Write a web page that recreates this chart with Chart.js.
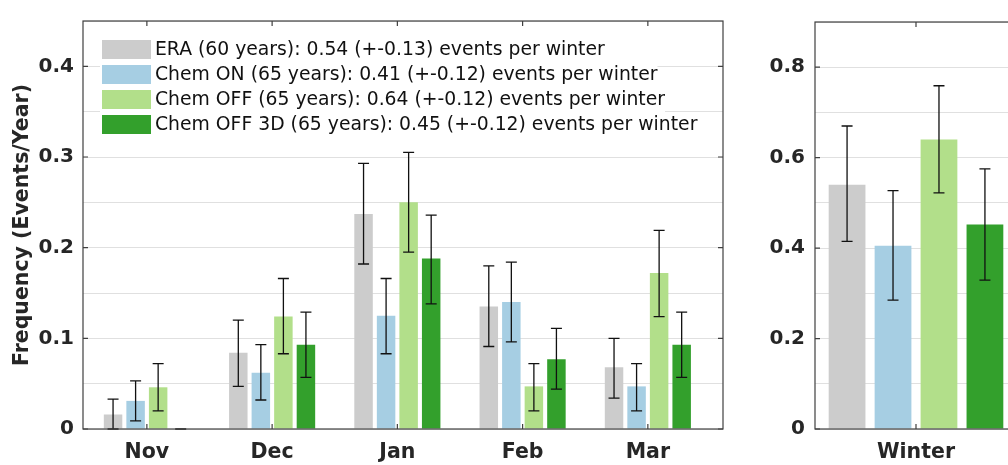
<!DOCTYPE html>
<html>
<head>
<meta charset="utf-8">
<script src="https://cdn.jsdelivr.net/npm/chart.js@4"></script>
<style>
  body { margin: 0; background: #fff; }
  #wrap { position: relative; width: 1008px; height: 465px; overflow: hidden; }
  canvas { position: absolute; top: 0; }
</style>
</head>
<body>
<div id="wrap">
  <canvas id="monthly" width="735" height="465" style="left:0"></canvas>
  <canvas id="winter" width="290" height="465" style="left:740px"></canvas>
</div>
<script>
// data
const months = ["Nov", "Dec", "Jan", "Feb", "Mar"];
const seasons = ["Winter"];
const legendLabels = [
  "ERA (60 years): 0.54 (+-0.13) events per winter",
  "Chem ON (65 years): 0.41 (+-0.12) events per winter",
  "Chem OFF (65 years): 0.64 (+-0.12) events per winter",
  "Chem OFF 3D (65 years): 0.45 (+-0.12) events per winter"
];
const colors = ["#cccccc", "#a6cee3", "#b2df8a", "#33a02c"];

const eraFreq = [0.016, 0.084, 0.237, 0.135, 0.068];
const eraLow = [0, 0.047, 0.182, 0.091, 0.034];
const eraHigh = [0.033, 0.120, 0.293, 0.180, 0.100];

const chemOnFreq = [0.031, 0.062, 0.125, 0.140, 0.047];
const chemOnLow = [0.009, 0.032, 0.083, 0.096, 0.020];
const chemOnHigh = [0.053, 0.093, 0.166, 0.184, 0.072];

const chemOffFreq = [0.046, 0.124, 0.250, 0.047, 0.172];
const chemOffLow = [0.020, 0.083, 0.195, 0.020, 0.124];
const chemOffHigh = [0.072, 0.166, 0.305, 0.072, 0.219];

const chemOff3dFreq = [0, 0.093, 0.188, 0.077, 0.093];
const chemOff3dLow = [0, 0.057, 0.138, 0.044, 0.057];
const chemOff3dHigh = [0, 0.129, 0.236, 0.111, 0.129];

// winter totals, one per series
const winterFreq = [0.540, 0.405, 0.640, 0.452];
const winterLow = [0.415, 0.285, 0.522, 0.329];
const winterHigh = [0.670, 0.527, 0.759, 0.575];

const axisColor = "#404040";
const textColor = "#262626";
const gridColor = "#e0e0e0";

// error bars with caps
const errorBars = {
  id: "errorBars",
  afterDatasetsDraw(chart) {
    const ctx = chart.ctx;
    const y = chart.scales.y;
    ctx.save();
    ctx.strokeStyle = "#111";
    ctx.lineWidth = 1.3;
    chart.data.datasets.forEach((ds, i) => {
      chart.getDatasetMeta(i).data.forEach((bar, j) => {
        const top = y.getPixelForValue(ds.errHigh[j]);
        const bot = y.getPixelForValue(ds.errLow[j]);
        ctx.beginPath();
        ctx.moveTo(bar.x, top); ctx.lineTo(bar.x, bot);
        ctx.moveTo(bar.x - 5.5, top); ctx.lineTo(bar.x + 5.5, top);
        ctx.moveTo(bar.x - 5.5, bot); ctx.lineTo(bar.x + 5.5, bot);
        ctx.stroke();
      });
    });
    ctx.restore();
  }
};

// matlab-like box with inward ticks
const frame = {
  id: "frame",
  afterDatasetsDraw(chart, args, opts) {
    const ctx = chart.ctx;
    const a = chart.chartArea;
    ctx.save();
    ctx.strokeStyle = axisColor;
    ctx.lineWidth = 1.2;
    ctx.strokeRect(a.left, a.top, a.right - a.left, a.bottom - a.top);
    ctx.beginPath();
    chart.scales.x.ticks.forEach(t => {
      const px = chart.scales.x.getPixelForValue(t.value);
      ctx.moveTo(px, a.bottom); ctx.lineTo(px, a.bottom - 5);
      ctx.moveTo(px, a.top); ctx.lineTo(px, a.top + 5);
    });
    for (let v = 0; v <= chart.scales.y.max + 1e-9; v += opts.major) {
      const py = chart.scales.y.getPixelForValue(v);
      ctx.moveTo(a.left, py); ctx.lineTo(a.left + 5, py);
      ctx.moveTo(a.right, py); ctx.lineTo(a.right - 5, py);
    }
    ctx.stroke();
    ctx.restore();
  }
};

// legend drawn inside the plot, white behind each row
const insideLegend = {
  id: "insideLegend",
  afterDatasetsDraw(chart) {
    if (!chart.options.plugins.insideLegend.show) return;
    const ctx = chart.ctx;
    const a = chart.chartArea;
    ctx.save();
    ctx.font = '18.8px "DejaVu Sans"';
    ctx.textBaseline = "middle";
    chart.data.datasets.forEach((ds, i) => {
      const x0 = a.left + 19;
      const y0 = a.top + 19 + i * 25;
      const w = ctx.measureText(ds.label).width;
      ctx.fillStyle = "#fff";
      ctx.fillRect(x0 - 2, y0 - 3, 53 + w + 2, 25);
      ctx.fillStyle = ds.backgroundColor;
      ctx.fillRect(x0, y0, 49, 19);
      ctx.fillStyle = "#111";
      ctx.fillText(ds.label, x0 + 53, y0 + 10);
    });
    ctx.restore();
  }
};

const toPoints = vals => vals.map((v, i) => ({ x: i + 1, y: v }));

function yAxis(max, major, width, pad, withTitle) {
  return {
    min: 0,
    max: max,
    afterFit: s => { s.width = width; },
    border: { display: false },
    grid: { color: gridColor, lineWidth: 1, drawTicks: false },
    ticks: {
      stepSize: 0.05,
      padding: pad,
      color: textColor,
      font: { family: "DejaVu Sans", size: 20, weight: "bold" },
      callback: v => {
        const k = v / major;
        if (Math.abs(k - Math.round(k)) > 1e-6) return "";
        return v === 0 ? "0" : v.toFixed(1);
      }
    },
    title: {
      display: withTitle,
      text: "Frequency (Events/Year)",
      color: textColor,
      font: { family: "DejaVu Sans", size: 20.5, weight: "bold" },
      padding: { top: 10, bottom: 0 }
    }
  };
}

function xAxis(cats, min, max) {
  return {
    type: "linear",
    min: min,
    max: max,
    offset: false,
    afterFit: s => { s.height = 36; },
    afterBuildTicks: s => { s.ticks = cats.map((c, i) => ({ value: i + 1 })); },
    border: { display: false },
    grid: { display: false, drawTicks: false },
    ticks: {
      autoSkip: false,
      maxRotation: 0,
      padding: 11,
      color: textColor,
      font: { family: "DejaVu Sans", size: 20.5, weight: "bold" },
      callback: v => cats[v - 1]
    }
  };
}

const monthSeries = [
  [eraFreq, eraLow, eraHigh],
  [chemOnFreq, chemOnLow, chemOnHigh],
  [chemOffFreq, chemOffLow, chemOffHigh],
  [chemOff3dFreq, chemOff3dLow, chemOff3dHigh]
];

new Chart(document.getElementById("monthly"), {
  type: "bar",
  data: {
    datasets: monthSeries.map((s, i) => ({
      label: legendLabels[i],
      data: toPoints(s[0]),
      errLow: s[1],
      errHigh: s[2],
      backgroundColor: colors[i],
      categoryPercentage: 0.72,
      barPercentage: 0.82
    }))
  },
  options: {
    responsive: false,
    animation: false,
    layout: { padding: { top: 10, right: 12, left: 0, bottom: 0 } },
    plugins: {
      legend: { display: false },
      tooltip: { enabled: false },
      frame: { major: 0.1 },
      insideLegend: { show: true }
    },
    scales: {
      x: xAxis(months, 0.49, 5.6),
      y: yAxis(0.45, 0.1, 83, 9, true)
    }
  },
  plugins: [errorBars, frame, insideLegend]
});

new Chart(document.getElementById("winter"), {
  type: "bar",
  data: {
    datasets: winterFreq.map((v, i) => ({
      label: legendLabels[i],
      data: toPoints([v]),
      errLow: [winterLow[i]],
      errHigh: [winterHigh[i]],
      backgroundColor: colors[i],
      categoryPercentage: 0.91,
      barPercentage: 0.8
    }))
  },
  options: {
    responsive: false,
    animation: false,
    layout: { padding: { top: 10, right: 13, left: 0, bottom: 0 } },
    plugins: {
      legend: { display: false },
      tooltip: { enabled: false },
      frame: { major: 0.2 },
      insideLegend: { show: false }
    },
    scales: {
      x: xAxis(seasons, 0.5, 1.5),
      y: yAxis(0.9, 0.2, 75, 10, false)
    }
  },
  plugins: [errorBars, frame, insideLegend]
});
</script>
</body>
</html>
